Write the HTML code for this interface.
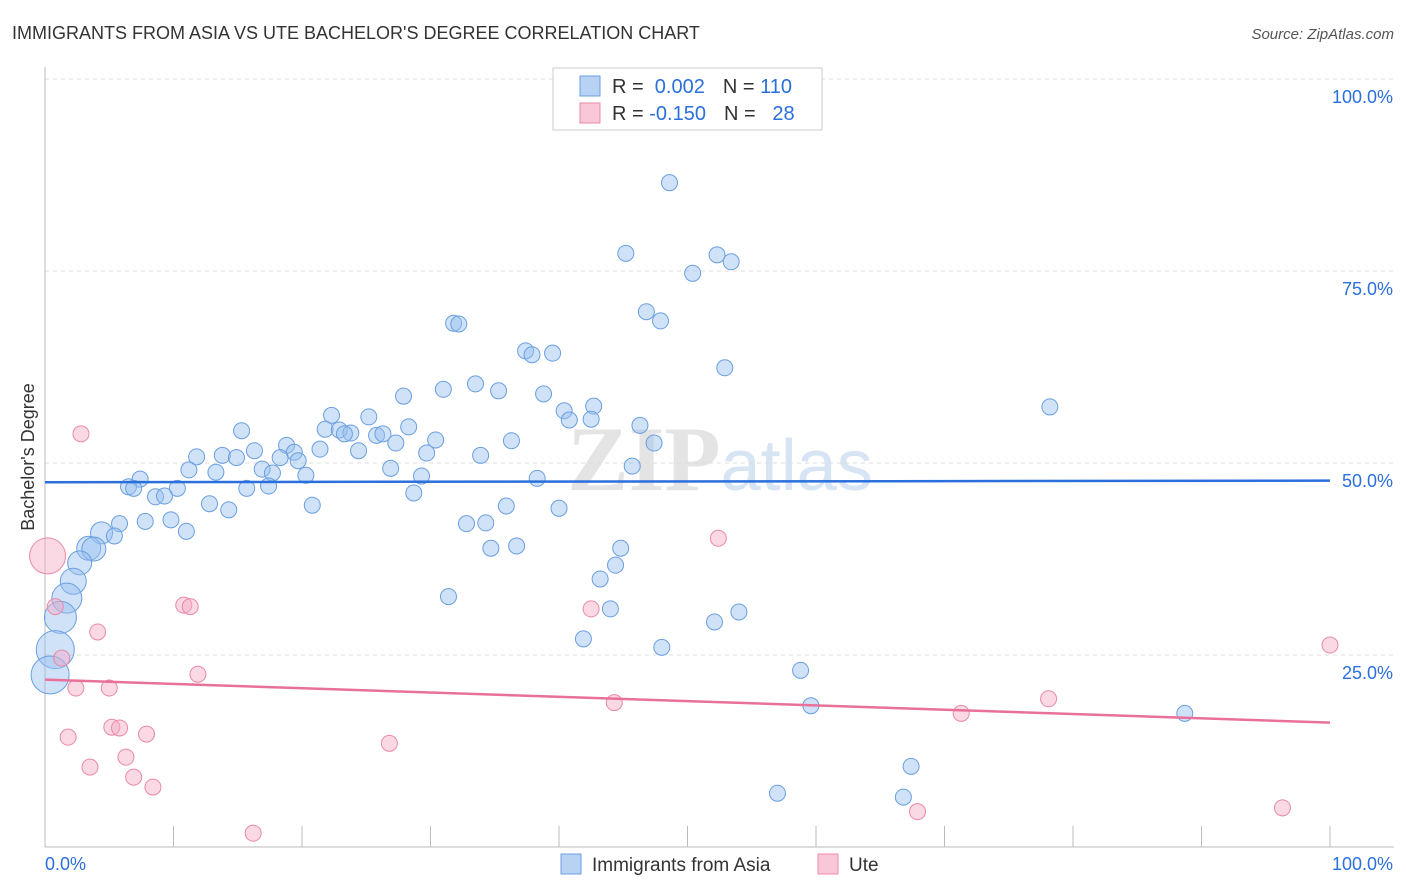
<!DOCTYPE html>
<html><head><meta charset="utf-8">
<style>
body{margin:0;background:#fff;font-family:"Liberation Sans",sans-serif;}
svg{display:block}
</style></head>
<body>
<svg id="chart" width="1406" height="892" viewBox="0 0 1406 892">
<text x="12" y="39" font-size="18" fill="#333">IMMIGRANTS FROM ASIA VS UTE BACHELOR'S DEGREE CORRELATION CHART</text>
<text x="1394" y="39" font-size="15" fill="#555" font-style="italic" text-anchor="end">Source: ZipAtlas.com</text>
<text x="720" y="490" font-size="92" fill="#e4e4e4" text-anchor="middle" font-family="Liberation Serif,serif" font-weight="bold">ZIP<tspan fill="#d6e4f4" font-family="Liberation Sans,sans-serif" font-weight="normal" font-size="72">atlas</tspan></text>
<g id="grid"></g>
<g id="axes"></g>
<g id="pts"></g>
<g id="trend"></g>
<text transform="translate(34,457) rotate(-90)" font-size="18" fill="#333" text-anchor="middle">Bachelor's Degree</text>
<g>
<rect x="553" y="68" width="269" height="62" fill="#fff" stroke="#ccc"/>
<rect x="580" y="76" width="20" height="20" fill="#b8d2f4" stroke="#6a9fe0"/>
<rect x="580" y="103" width="20" height="20" fill="#f9c8d8" stroke="#e88aa8"/>
<text x="612" y="93" font-size="20" fill="#333">R = <tspan fill="#2a6fdb">&#160;0.002</tspan><tspan dx="18">N = </tspan><tspan fill="#2a6fdb"> 110</tspan></text>
<text x="612" y="120" font-size="20" fill="#333">R = <tspan fill="#2a6fdb">-0.150</tspan><tspan dx="18">N = </tspan><tspan fill="#2a6fdb">&#160;&#160;28</tspan></text>
</g>
<g>
<rect x="561" y="854" width="20" height="20" fill="#b8d2f4" stroke="#6a9fe0"/>
<text x="592" y="871" font-size="19" fill="#333">Immigrants from Asia</text>
<rect x="818" y="854" width="20" height="20" fill="#f9c8d8" stroke="#e88aa8"/>
<text x="849" y="871" font-size="19" fill="#333">Ute</text>
</g>
</svg>
<script>
const yTicks=[25,50,75,100];
const yTickLabels=["25.0%","50.0%","75.0%","100.0%"];
const xTicks=[0,10,20,30,40,50,60,70,80,90,100];
const asiaX=[48.6,45.2,52.3,53.4,50.4,46.8,47.9,31.8,32.2,37.4,37.9,39.5,52.9,33.5,31.0,35.3,27.9,38.8,78.2,42.7,40.4,22.3,25.2,40.8,42.5,46.3,15.3,21.8,22.9,28.3,23.8,23.3,25.8,26.3,47.4,36.3,30.4,18.8,27.3,21.4,16.3,24.4,19.4,11.8,13.8,14.9,18.3,19.7,29.7,33.9,45.7,26.9,11.2,13.3,16.9,17.7,20.3,29.3,38.3,7.4,6.5,6.9,10.3,15.7,17.4,28.7,8.6,9.3,12.8,20.8,35.9,14.3,40.0,5.8,7.8,9.8,32.8,34.3,4.4,5.4,11.0,3.4,3.8,34.7,36.7,44.8,2.7,44.4,43.2,2.2,1.7,31.4,44.0,54.0,1.2,52.1,41.9,48.0,0.8,58.8,0.4,59.6,88.7,67.4,57.0,66.8];
const asiaY=[86.5,77.3,77.1,76.2,74.7,69.7,68.5,68.2,68.1,64.6,64.1,64.3,62.4,60.3,59.6,59.4,58.7,59.0,57.3,57.4,56.8,56.2,56.0,55.6,55.7,54.9,54.2,54.4,54.3,54.7,53.9,53.8,53.6,53.8,52.6,52.9,53.0,52.3,52.6,51.8,51.6,51.6,51.4,50.8,51.0,50.7,50.7,50.3,51.3,51.0,49.6,49.3,49.1,48.8,49.2,48.7,48.4,48.3,48.0,47.9,46.9,46.7,46.7,46.7,47.0,46.1,45.6,45.7,44.7,44.5,44.4,43.9,44.1,42.1,42.4,42.6,42.1,42.2,40.9,40.5,41.1,38.9,38.8,38.9,39.2,38.9,37.0,36.7,34.9,34.6,32.4,32.6,31.0,30.6,29.9,29.3,27.1,26.0,25.7,23.0,22.4,18.4,17.4,10.5,7.0,6.5];
const asiaSize=[];
const uteX=[2.8,0.2,52.4,10.8,11.3,42.5,0.8,4.1,100,1.3,11.9,2.4,5.0,78.1,44.3,71.3,5.2,5.8,7.9,1.8,26.8,6.3,3.5,6.9,8.4,96.3,67.9,16.2];
const uteY=[53.8,37.9,40.2,31.5,31.3,31.0,31.3,28.0,26.3,24.6,22.5,20.7,20.7,19.3,18.8,17.4,15.6,15.5,14.7,14.3,13.5,11.7,10.4,9.1,7.8,5.1,4.6,1.8];
const asiaTrend=[47.5,47.7];
const uteTrend=[21.8,16.2];
const X0=45,X1=1330,Y0=847,Y1=79;
const sx=v=>X0+(X1-X0)*v/100;
const sy=v=>Y0-(Y0-Y1)*v/100;
const NS="http://www.w3.org/2000/svg";
function mk(tag,attrs,parent){const e=document.createElementNS(NS,tag);for(const k in attrs)e.setAttribute(k,attrs[k]);document.getElementById(parent).appendChild(e);return e;}
// grid
let g=mk('line',{x1:X0,x2:1394,y1:sy(100),y2:sy(100),stroke:'#ddd','stroke-dasharray':'4,4'},'grid');


yTicks.forEach((t,i)=>{
 if(t<100){const l=mk('line',{x1:X0,x2:1394,y1:sy(t),y2:sy(t),stroke:'#ddd','stroke-dasharray':'4,4'},'grid');
 
 }
 const tx=mk('text',{x:1393,y:sy(t)+24,'font-size':18,fill:'#2a6fdb','text-anchor':'end'},'grid');
 tx.textContent=yTickLabels[i];
 
 
});
let a=mk('line',{x1:X0,x2:X0,y1:67,y2:Y0,stroke:'#bbb'},'axes');


a=mk('line',{x1:X0,x2:1394,y1:Y0,y2:Y0,stroke:'#bbb'},'axes');


xTicks.forEach(t=>{const l=mk('line',{x1:sx(t),x2:sx(t),y1:826,y2:Y0,stroke:'#bbb'},'axes');
 
 });
let t=mk('text',{x:45,y:870,'font-size':18,fill:'#2a6fdb'},'axes');t.textContent='0.0%';


t=mk('text',{x:1393,y:870,'font-size':18,fill:'#2a6fdb','text-anchor':'end'},'axes');t.textContent='100.0%';


function rad(x,big){if(x<1)return 19;if(x<1.5)return 16;if(x<2)return 15;if(x<2.5)return 13;if(x<4)return 12;if(x<5)return 11;return 8;}
asiaX.forEach((x,i)=>{const c=mk('circle',{cx:sx(x),cy:sy(asiaY[i]),r:rad(x),fill:'rgba(150,190,240,0.45)',stroke:'#6a9fe0','stroke-width':1},'pts');
 
 });
uteX.forEach((x,i)=>{const r=x<0.5?18:8;const c=mk('circle',{cx:sx(x),cy:sy(uteY[i]),r:r,fill:'rgba(245,170,196,0.45)',stroke:'#e88aa8','stroke-width':1},'pts');
 
 });
let tl=mk('line',{x1:sx(0),x2:sx(100),y1:sy(asiaTrend[0]),y2:sy(asiaTrend[1]),stroke:'#2a6fdb','stroke-width':2.5},'trend');


tl=mk('line',{x1:sx(0),x2:sx(100),y1:sy(uteTrend[0]),y2:sy(uteTrend[1]),stroke:'#e8709a','stroke-width':2.5},'trend');


</script>
</body></html>
